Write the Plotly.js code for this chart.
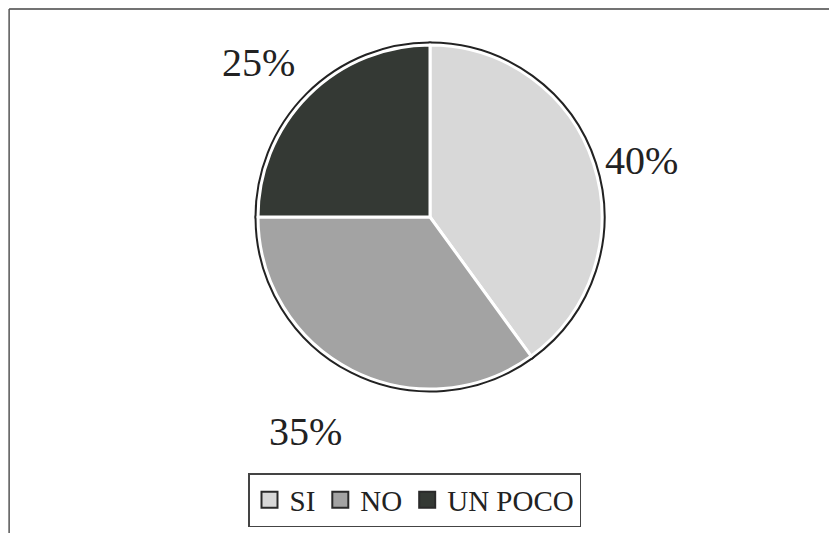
<!DOCTYPE html>
<html>
<head>
<meta charset="utf-8">
<script src="https://cdn.plot.ly/plotly-3.0.1.min.js"></script>
<style>html,body{margin:0;padding:0;background:#fff;}#chart{width:829px;height:533px;}</style>
</head>
<body>
<div id="chart"></div>
<script>
const categories = ["SI", "NO", "UN POCO"];
const values = [40, 35, 25];
const labelsText = ["40%", "35%", "25%"];
const colors = ["#d8d8d8", "#a3a3a3", "#343934"];

const SERIF = "Liberation Serif";
const R = 172;
const cx = 430 / 829, cy = 1 - 217 / 533;
const dom = {x: [cx - R / 829, cx + R / 829], y: [cy - R / 533, cy + R / 533]};
const common = {
  type: "pie",
  labels: categories,
  values: values,
  textinfo: "none",
  sort: false,
  direction: "clockwise",
  rotation: 0,
  domain: dom,
  hoverinfo: "none",
  showlegend: false
};
const back = Object.assign({}, common, {
  marker: {colors: colors, line: {color: "#222", width: 7}}
});
const front = Object.assign({}, common, {
  marker: {colors: colors, line: {color: "#ffffff", width: 3}}
});
const legendTraces = categories.map((c, i) => ({
  type: "scatter", mode: "markers", x: [null], y: [null], name: c,
  marker: {symbol: "square", size: 16, color: colors[i], line: {color: "#2a2a2a", width: 2}},
  showlegend: true, hoverinfo: "none"
}));

// label anchor positions (paper coordinates) for each slice's percentage
const labelPos = [[0.7744, 0.698], [0.368, 0.19], [0.3124, 0.882]];
const annotations = labelsText.map((t, i) => ({
  xref: "paper", yref: "paper", x: labelPos[i][0], y: labelPos[i][1],
  xanchor: "center", yanchor: "middle", showarrow: false, text: t,
  font: {family: SERIF, size: 40, color: "#222"}
}));

const layout = {
  width: 829, height: 533,
  margin: {l: 0, r: 0, t: 0, b: 0},
  paper_bgcolor: "#fff", plot_bgcolor: "rgba(0,0,0,0)",
  xaxis: {visible: false}, yaxis: {visible: false},
  showlegend: true,
  legend: {
    orientation: "h", x: 0.5, xanchor: "center", y: 1 - 527 / 533, yanchor: "bottom",
    font: {family: SERIF, size: 29, color: "#222"},
    bordercolor: "#444", borderwidth: 1.5, bgcolor: "#fff",
    itemwidth: 30, traceorder: "normal"
  },
  annotations: annotations,
  shapes: [
    {type: "line", xref: "paper", yref: "paper", x0: 0.011, x1: 1, y0: 0.983, y1: 0.983, line: {color: "#444", width: 1.5}},
    {type: "line", xref: "paper", yref: "paper", x0: 0.011, x1: 0.011, y0: 0.983, y1: 0.0, line: {color: "#555", width: 1.5}}
  ]
};
Plotly.newPlot("chart", [back, front].concat(legendTraces), layout, {displayModeBar: false, staticPlot: true});
</script>
</body>
</html>
